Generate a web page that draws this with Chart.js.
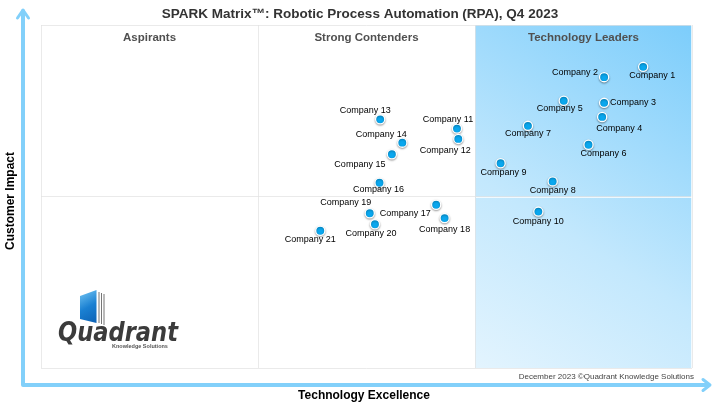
<!DOCTYPE html>
<html lang="en">
<head>
<meta charset="UTF-8">
<title>SPARK Matrix: Robotic Process Automation (RPA), Q4 2023</title>
<script src="https://cdn.jsdelivr.net/npm/chart.js"></script>
<style>
  html, body { margin: 0; padding: 0; background: #fff; }
</style>
</head>
<body>
<canvas id="myChart" width="720" height="405"></canvas>
<script>
// Data (0-100 on both axes)
const companies = [
  'Company 1', 'Company 2', 'Company 3', 'Company 4', 'Company 5', 'Company 6', 'Company 7',
  'Company 8', 'Company 9', 'Company 10', 'Company 11', 'Company 12', 'Company 13', 'Company 14',
  'Company 15', 'Company 16', 'Company 17', 'Company 18', 'Company 19', 'Company 20', 'Company 21'
];
const excellence = [92.5, 86.5, 86.5, 86.2, 80.3, 84.1, 74.8, 78.6, 70.6, 76.4, 63.9,
                    64.1, 52.1, 55.5, 53.9, 52.0, 60.7, 62.0, 50.5, 51.3, 42.9];
const impact = [87.8, 84.8, 77.3, 73.2, 77.9, 65.1, 70.6, 54.4, 59.7, 45.6, 69.8,
                66.8, 72.5, 65.7, 62.3, 54.0, 47.6, 43.7, 45.1, 41.9, 40.0];
const quadrants = ['Aspirants', 'Strong Contenders', 'Technology Leaders'];
const xTicks = [0, 100 / 3, 200 / 3, 100];
const yTicks = [0, 50, 100];

// where each label's centre sits relative to its dot (px)
const labelOffsets = [
  [9, 9], [-29, -5], [29, 0], [17, 12], [-4, 8], [15, 9], [0, 8],
  [0, 9], [3, 9], [0, 10], [-9, -9], [-13, 12], [-15, -9], [-21, -8],
  [-32, 10], [-1, 7], [-31, 9], [0, 11], [-24, -11], [-4, 9], [-10, 9]
];

const FONT = '"Liberation Sans", Arial, sans-serif';
const ARROW = '#82d0fa';

const points = excellence.map((x, i) => ({ x: x, y: impact[i] }));

const decor = {
  id: 'decor',
  beforeDraw(chart) {
    const ctx = chart.ctx;
    const a = chart.chartArea;
    const xs = chart.scales.x;
    const x0 = xs.getPixelForValue(xTicks[2]);
    // leaders quadrant shading
    const g = ctx.createLinearGradient(x0, a.bottom, a.right, a.top);
    g.addColorStop(0, '#e3f4fe');
    g.addColorStop(0.4, '#c3e8fd');
    g.addColorStop(1, '#7ccdfb');
    ctx.save();
    ctx.fillStyle = g;
    ctx.fillRect(x0, a.top, a.right - x0, a.bottom - a.top);
    ctx.restore();
  },
  beforeDatasetsDraw(chart) {
    const ctx = chart.ctx;
    const a = chart.chartArea;
    const xs = chart.scales.x;
    const ys = chart.scales.y;
    // the dividers read as white lines across the shaded quadrant
    const x0 = xs.getPixelForValue(xTicks[2]);
    const yMid = Math.round(ys.getPixelForValue(yTicks[1])) + 0.5;
    ctx.save();
    ctx.strokeStyle = 'rgba(255,255,255,0.75)';
    ctx.lineWidth = 1;
    ctx.beginPath();
    ctx.moveTo(x0 + 1, yMid);
    ctx.lineTo(a.right, yMid);
    ctx.moveTo(a.right - 0.5, a.top);
    ctx.lineTo(a.right - 0.5, a.bottom);
    ctx.stroke();
    ctx.restore();

    ctx.save();
    ctx.shadowColor = 'rgba(0,0,0,0.35)';
    ctx.shadowBlur = 2;
    ctx.shadowOffsetY = 1;
  },
  afterDatasetsDraw(chart) {
    const ctx = chart.ctx;
    ctx.restore();
    // company labels
    const meta = chart.getDatasetMeta(0);
    ctx.save();
    ctx.font = '9px ' + FONT;
    ctx.fillStyle = '#000';
    ctx.textAlign = 'center';
    ctx.textBaseline = 'middle';
    meta.data.forEach((el, i) => {
      const off = labelOffsets[i];
      ctx.fillText(companies[i], el.x + off[0], el.y + off[1]);
    });
    ctx.restore();
  },
  afterDraw(chart) {
    const ctx = chart.ctx;
    const a = chart.chartArea;
    const xs = chart.scales.x;
    ctx.save();

    // quadrant headers
    ctx.font = 'bold 11.5px ' + FONT;
    ctx.fillStyle = '#505050';
    ctx.textAlign = 'center';
    ctx.textBaseline = 'middle';
    quadrants.forEach((q, i) => {
      const cx = (xs.getPixelForValue(xTicks[i]) + xs.getPixelForValue(xTicks[i + 1])) / 2;
      ctx.fillText(q, cx, a.top + 13);
    });

    // title
    ctx.font = 'bold 13.5px ' + FONT;
    ctx.fillStyle = '#333';
    ctx.fillText('SPARK Matrix\u2122: Robotic Process Automation (RPA), Q4 2023', 360, 14);

    // axis arrows
    ctx.strokeStyle = ARROW;
    ctx.lineWidth = 4;
    ctx.lineCap = 'round';
    ctx.lineJoin = 'round';
    ctx.beginPath();
    ctx.moveTo(23, 11);
    ctx.lineTo(23, 385);
    ctx.lineTo(708, 385);
    ctx.stroke();
    ctx.lineWidth = 3;
    ctx.beginPath();
    ctx.moveTo(17.5, 18);
    ctx.lineTo(23, 10);
    ctx.lineTo(28.5, 18);
    ctx.stroke();
    ctx.beginPath();
    ctx.moveTo(703, 379.5);
    ctx.lineTo(710, 385);
    ctx.lineTo(703, 390.5);
    ctx.stroke();

    // axis titles
    ctx.font = 'bold 12px ' + FONT;
    ctx.fillStyle = '#000';
    ctx.fillText('Technology Excellence', 364, 396);
    ctx.save();
    ctx.translate(11, 201);
    ctx.rotate(-Math.PI / 2);
    ctx.fillText('Customer Impact', 0, 0);
    ctx.restore();

    // footer
    ctx.font = '8px ' + FONT;
    ctx.fillStyle = '#444';
    ctx.textAlign = 'right';
    ctx.fillText('December 2023 \u00A9Quadrant Knowledge Solutions', 694, 377);

    // logo
    ctx.strokeStyle = '#777';
    ctx.lineWidth = 1;
    ctx.lineCap = 'butt';
    ctx.beginPath();
    ctx.moveTo(99, 292); ctx.lineTo(99, 323);
    ctx.moveTo(101.5, 293); ctx.lineTo(101.5, 324);
    ctx.moveTo(104, 294); ctx.lineTo(104, 325);
    ctx.stroke();
    const bg = ctx.createLinearGradient(80, 292, 97, 322);
    bg.addColorStop(0, '#6cc0f0');
    bg.addColorStop(0.5, '#1a80d2');
    bg.addColorStop(1, '#0d63b6');
    ctx.fillStyle = bg;
    ctx.beginPath();
    ctx.moveTo(80, 296);
    ctx.lineTo(96.5, 290);
    ctx.lineTo(96.5, 323);
    ctx.lineTo(80, 319);
    ctx.closePath();
    ctx.fill();
    ctx.textAlign = 'left';
    ctx.textBaseline = 'alphabetic';
    ctx.fillStyle = '#3b3b3b';
    ctx.font = 'italic bold 26px "DejaVu Sans", sans-serif';
    ctx.save();
    ctx.translate(58, 341);
    const w = ctx.measureText('Quadrant').width;
    ctx.scale(120 / w, 1);
    ctx.fillText('Quadrant', 0, 0);
    ctx.restore();
    ctx.font = 'bold 5.5px ' + FONT;
    ctx.fillStyle = '#555';
    ctx.fillText('Knowledge Solutions', 112, 348);

    ctx.restore();
  }
};

new Chart(document.getElementById('myChart'), {
  type: 'scatter',
  data: {
    datasets: [{
      label: 'Vendors',
      data: points,
      backgroundColor: '#0aa7ee',
      borderColor: '#ffffff',
      borderWidth: 1.3,
      pointRadius: 4.6,
      pointHoverRadius: 4.6
    }]
  },
  options: {
    responsive: false,
    animation: false,
    events: [],
    layout: { padding: { left: 41, top: 25, right: 28, bottom: 37 } },
    scales: {
      x: {
        type: 'linear', min: 0, max: 100,
        afterBuildTicks: s => { s.ticks = xTicks.map(v => ({ value: v })); },
        ticks: { display: false },
        grid: { color: 'rgba(225,225,225,0.7)', drawTicks: false },
        border: { display: false }
      },
      y: {
        type: 'linear', min: 0, max: 100,
        afterBuildTicks: s => { s.ticks = yTicks.map(v => ({ value: v })); },
        ticks: { display: false },
        grid: { color: 'rgba(225,225,225,0.7)', drawTicks: false },
        border: { display: false }
      }
    },
    plugins: {
      legend: { display: false },
      tooltip: { enabled: false },
      title: { display: false }
    }
  },
  plugins: [decor]
});
</script>
</body>
</html>
